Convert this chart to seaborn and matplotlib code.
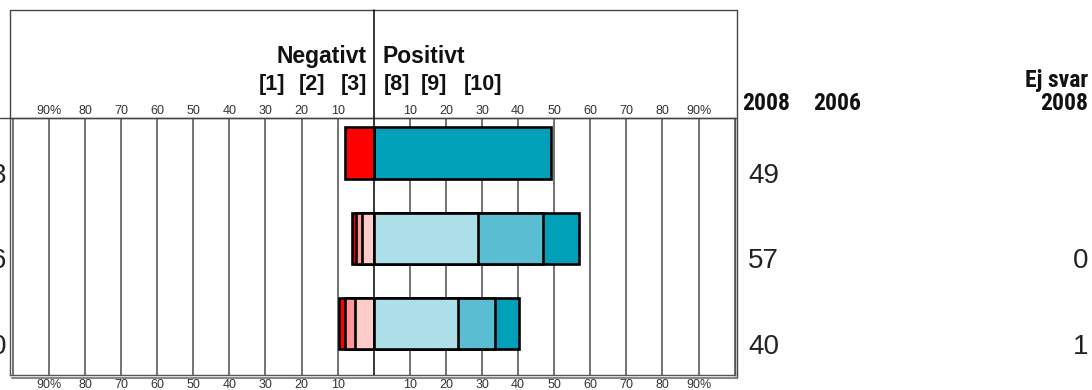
import pandas as pd
import matplotlib
matplotlib.use("Agg")
import matplotlib.pyplot as plt
from matplotlib.lines import Line2D
from matplotlib import transforms, font_manager
import seaborn as sns

# ---- data -------------------------------------------------------------
rows = ["3", "6", "0"]
neg_1 = [8.0, 1.1, 1.8]      # [1]
neg_2 = [0.0, 1.6, 2.7]      # [2]
neg_3 = [0.0, 3.2, 5.2]      # [3]
pos_8 = [0.0, 29.0, 23.3]    # [8]
pos_9 = [0.0, 18.0, 10.4]    # [9]
pos_10 = [49.0, 10.0, 6.5]   # [10]
positive_2008 = [49, 57, 40]
no_answer_2008 = ["", "0", "1"]
tick_values = list(range(-90, 91, 10))
tick_labels = ["90%", "80", "70", "60", "50", "40", "30", "20", "10", "",
               "10", "20", "30", "40", "50", "60", "70", "80", "90%"]

colors_neg = ["#FF0000", "#FF9999", "#FFCCCC"]
colors_pos = ["#ADDFE8", "#5BBDD2", "#00A0B8"]

# ---- figure setup -----------------------------------------------------
W, H = 1092, 390
sns.set_theme(style="white")
plt.rcParams["font.family"] = ["Liberation Sans", "DejaVu Sans"]

# a condensed face for the column headers, if one is available
names = {f.name for f in font_manager.fontManager.ttflist}
narrow, narrow_size = "Liberation Sans", 14.5
for cand in ["Liberation Sans Narrow", "Roboto Condensed", "Open Sans Condensed"]:
    if cand in names:
        narrow, narrow_size = cand, 17
        break

fig = plt.figure(figsize=(W / 100, H / 100), dpi=100)
fig.patch.set_facecolor("white")


def fx(px):
    return px / W


def fy(py):
    return 1 - py / H


AX_L, AX_R, AX_T, AX_B = 10, 734.6, 118, 375
ax = fig.add_axes([fx(AX_L), fy(AX_B), fx(AX_R - AX_L), (AX_B - AX_T) / H])


def layer(values, color):
    df = pd.DataFrame({"row": rows, "value": values})
    sns.barplot(data=df, x="value", y="row", order=rows, orient="h",
                color=color, saturation=1, width=0.6, edgecolor="black",
                linewidth=1.9, errorbar=None, ax=ax, zorder=3)


# stacked diverging bars: draw cumulative totals, outermost segment first
n_all = [-(a + b + c) for a, b, c in zip(neg_1, neg_2, neg_3)]
n_23 = [-(b + c) for b, c in zip(neg_2, neg_3)]
n_3 = [-c for c in neg_3]
p_all = [a + b + c for a, b, c in zip(pos_8, pos_9, pos_10)]
p_89 = [a + b for a, b in zip(pos_8, pos_9)]

layer(n_all, colors_neg[0])
layer(n_23, colors_neg[1])
layer(n_3, colors_neg[2])
layer(p_all, colors_pos[2])
layer(p_89, colors_pos[1])
layer(pos_8, colors_pos[0])

XMIN, XMAX = -100.8, 100
ax.set_xlim(XMIN, XMAX)
ax.set_ylim(2.6, -0.41)
for v in range(-100, 101, 10):
    if v != 0:
        ax.axvline(v, color="#4d4d4d", lw=1.1, zorder=1)
ax.axvline(0, color="black", lw=1.1, zorder=4)

ax.set_xticks(tick_values)
ax.set_xticklabels(tick_labels)
ax.tick_params(axis="x", length=0, labelsize=9, labelcolor="#333333",
               top=False, labeltop=False, bottom=True, labelbottom=True, pad=3)
ax.set_yticks([])
ax.set_xlabel("")
ax.set_ylabel("")
for s in ax.spines.values():
    s.set_color("#555555")
    s.set_linewidth(1.0)
    s.set_visible(True)

# percentage scale repeated above the bars
top = ax.twiny()
top.set_xlim(XMIN, XMAX)
top.set_xticks(tick_values)
top.set_xticklabels(tick_labels)
top.tick_params(axis="x", length=0, labelsize=9, labelcolor="#333333", pad=0.5)
top.set_yticks([])
for s in top.spines.values():
    s.set_visible(False)

# ---- frame lines around the header ------------------------------------
def fline(x0, y0, x1, y1, color="#444444", lw=1.0):
    fig.add_artist(Line2D([fx(x0), fx(x1)], [fy(y0), fy(y1)], color=color,
                          lw=lw, transform=fig.transFigure))


fline(10, 10, 737, 10)
fline(10, 10, 10, 118)
fline(737, 10, 737, 378)
fline(0, 118, 736, 118)
fline(12, 377.5, 737, 377.5, color="#888888", lw=1.5)
zero_px = AX_L + (0 - XMIN) / (XMAX - XMIN) * (AX_R - AX_L)
fline(zero_px, 10, zero_px, 118, color="black", lw=1.1)

# ---- header texts -----------------------------------------------------
bold = dict(fontweight="bold", color="#111111")
fig.text(fx(367), fy(63), "Negativt", ha="right", va="baseline", fontsize=16.5, **bold)
fig.text(fx(383), fy(63), "Positivt", ha="left", va="baseline", fontsize=16.5, **bold)
for lab, cx in zip(["[1]", "[2]", "[3]", "[8]", "[9]", "[10]"],
                   [272, 312.5, 353.5, 396.5, 434, 483]):
    fig.text(fx(cx), fy(90), lab, ha="center", va="baseline", fontsize=15.5, **bold)

fig.text(fx(742), fy(110), "2008", ha="left", va="baseline", fontsize=narrow_size,
         family=narrow, **bold)
fig.text(fx(813), fy(110), "2006", ha="left", va="baseline", fontsize=narrow_size,
         family=narrow, **bold)
fig.text(fx(1088), fy(87), "Ej svar", ha="right", va="baseline", fontsize=narrow_size,
         family=narrow, **bold)
fig.text(fx(1088), fy(110), "2008", ha="right", va="baseline", fontsize=narrow_size,
         family=narrow, **bold)

# ---- row texts (x in figure pixels, y in data rows) --------------------
tr = transforms.blended_transform_factory(fig.transFigure, ax.transData)
for i, (lab, tot, ej) in enumerate(zip(rows, positive_2008, no_answer_2008)):
    y = i + 0.27
    ax.text(fx(6), y, lab, transform=tr, ha="right", va="center",
            fontsize=20, color="#222222", clip_on=False)
    ax.text(fx(748), y, str(tot), transform=tr, ha="left", va="center",
            fontsize=20, color="#222222", clip_on=False)
    if ej:
        ax.text(fx(1088), y, ej, transform=tr, ha="right", va="center",
                fontsize=20, color="#222222", clip_on=False)

fig.savefig("out.png", dpi=100, facecolor="white")
